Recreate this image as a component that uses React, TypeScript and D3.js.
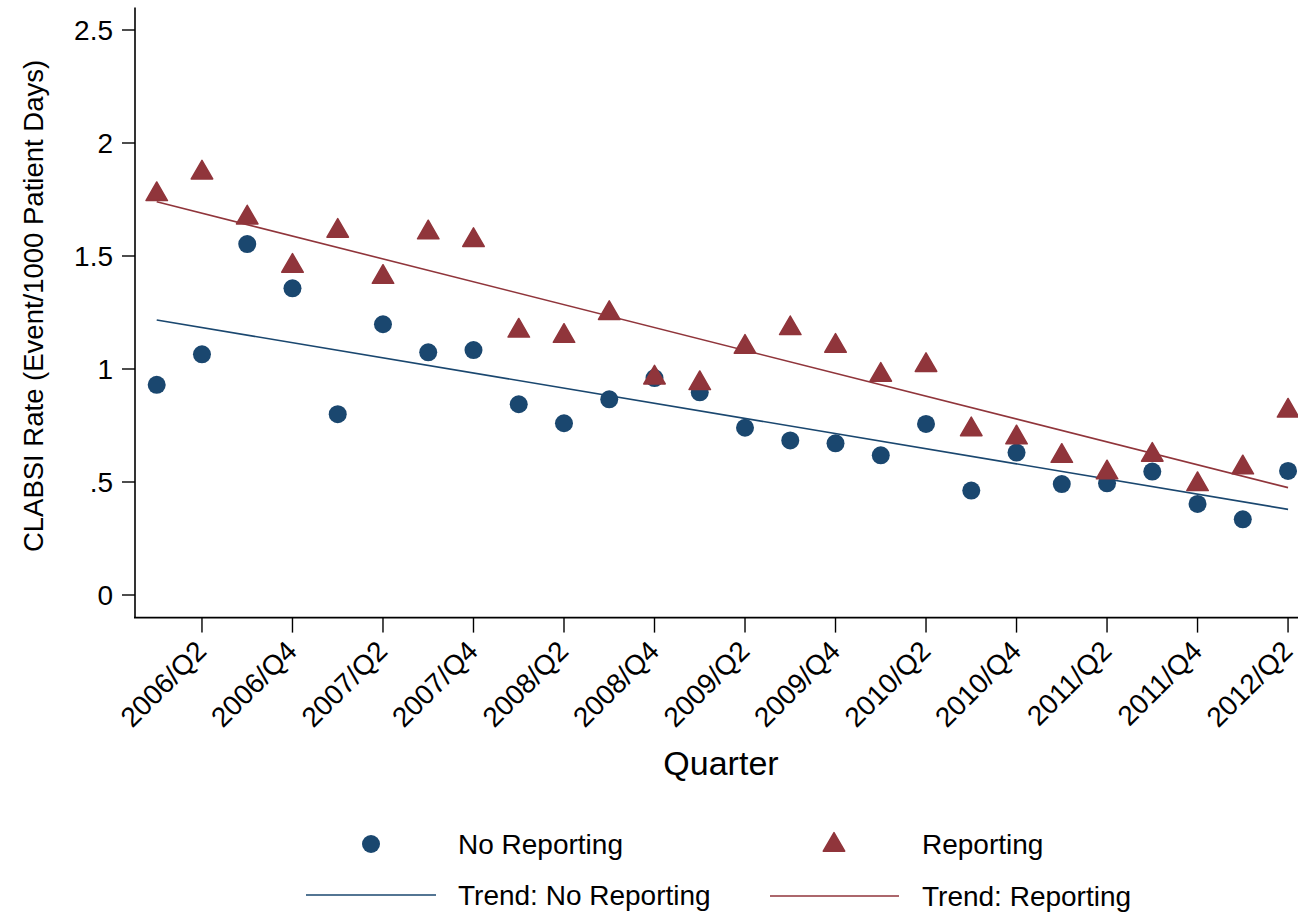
import React from "react";
import * as d3 from "d3";

const quarters = [
  "2006/Q1", "2006/Q2", "2006/Q3", "2006/Q4",
  "2007/Q1", "2007/Q2", "2007/Q3", "2007/Q4",
  "2008/Q1", "2008/Q2", "2008/Q3", "2008/Q4",
  "2009/Q1", "2009/Q2", "2009/Q3", "2009/Q4",
  "2010/Q1", "2010/Q2", "2010/Q3", "2010/Q4",
  "2011/Q1", "2011/Q2", "2011/Q3", "2011/Q4",
  "2012/Q1", "2012/Q2",
];

const noReporting = [
  0.93, 1.065, 1.553, 1.357, 0.8, 1.198, 1.074, 1.084, 0.844, 0.76, 0.866, 0.96,
  0.897, 0.74, 0.684, 0.671, 0.618, 0.757, 0.462, 0.63, 0.491, 0.494, 0.546,
  0.403, 0.335, 0.549,
];

const reporting = [
  1.777, 1.873, 1.674, 1.46, 1.615, 1.411, 1.608, 1.574, 1.173, 1.15, 1.251,
  0.966, 0.941, 1.102, 1.184, 1.106, 0.978, 1.021, 0.737, 0.701, 0.619, 0.546,
  0.624, 0.494, 0.568, 0.819,
];

// trend line values at first and last quarter
const trendNoReporting = [1.217, 0.379];
const trendReporting = [1.74, 0.475];

const yTicks = [0, 0.5, 1, 1.5, 2, 2.5];
const yTickLabels = ["0", ".5", "1", "1.5", "2", "2.5"];
const xTickQuarters = [
  "2006/Q2", "2006/Q4", "2007/Q2", "2007/Q4", "2008/Q2", "2008/Q4",
  "2009/Q2", "2009/Q4", "2010/Q2", "2010/Q4", "2011/Q2", "2011/Q4", "2012/Q2",
];

const NAVY = "#1a476f";
const MAROON = "#90353b";
const FONT = "'Liberation Sans', Arial, Helvetica, sans-serif";

const W = 1298;
const H = 914;

export default function App() {
  const x = d3.scaleLinear().domain([-0.48, 25.22]).range([135, 1298]);
  const y = d3.scaleLinear().domain([0, 2.5]).range([595, 30]);
  const idx = (q: string) => quarters.indexOf(q);

  const tri = d3.symbol().type(d3.symbolTriangle).size(200)();
  const lineGen = d3
    .line<[number, number]>()
    .x((d) => x(d[0]))
    .y((d) => y(d[1]));

  const last = quarters.length - 1;
  const axisY = y(-0.1);
  const axisTop = y(2.6);

  return (
    <svg
      width={W}
      height={H}
      style={{ position: "absolute", left: 0, top: 0, background: "#fff" }}
      fontFamily={FONT}
    >
      <rect x={0} y={0} width={W} height={H} fill="#fff" />
      {/* y axis */}
      <line x1={135} x2={135} y1={axisTop} y2={axisY} stroke="#000" strokeWidth={1.6} />
      {yTicks.map((t, i) => (
        <g key={t}>
          <line x1={122} x2={135} y1={y(t)} y2={y(t)} stroke="#000" strokeWidth={1.4} />
          <text x={113} y={y(t)} dy="0.36em" textAnchor="end" fontSize={28} fill="#000">
            {yTickLabels[i]}
          </text>
        </g>
      ))}
      <text
        transform={`translate(33, 306) rotate(-90)`}
        dy="0.36em"
        textAnchor="middle"
        fontSize={27.5}
        fill="#000"
      >
        CLABSI Rate (Event/1000 Patient Days)
      </text>

      {/* x axis */}
      <line x1={134} x2={1298} y1={axisY} y2={axisY} stroke="#000" strokeWidth={1.6} />
      {xTickQuarters.map((q) => {
        const px = x(idx(q));
        return (
          <g key={q}>
            <line x1={px} x2={px} y1={axisY} y2={axisY + 15} stroke="#000" strokeWidth={1.4} />
            <text
              transform={`translate(${px - 1}, ${axisY + 28}) rotate(-45)`}
              dy="0.36em"
              textAnchor="end"
              fontSize={28}
              fill="#000"
            >
              {q}
            </text>
          </g>
        );
      })}
      <text x={721} y={775} textAnchor="middle" fontSize={34} fill="#000">
        Quarter
      </text>

      {/* trend lines */}
      <path
        d={lineGen([[0, trendNoReporting[0]], [last, trendNoReporting[1]]]) || ""}
        stroke={NAVY}
        strokeWidth={1.6}
        fill="none"
      />
      <path
        d={lineGen([[0, trendReporting[0]], [last, trendReporting[1]]]) || ""}
        stroke={MAROON}
        strokeWidth={1.6}
        fill="none"
      />

      {/* points */}
      {noReporting.map((v, i) => (
        <circle key={"n" + i} cx={x(i)} cy={y(v)} r={9} fill={NAVY} />
      ))}
      {reporting.map((v, i) => (
        <path
          key={"r" + i}
          d={tri || ""}
          transform={`translate(${x(i)}, ${y(v) + 1})`}
          fill={MAROON}
          stroke={MAROON}
          strokeWidth={1.5}
          strokeLinejoin="round"
        />
      ))}

      {/* legend */}
      <circle cx={371} cy={844} r={9} fill={NAVY} />
      <text x={458} y={844} dy="0.36em" fontSize={28} fill="#000">
        No Reporting
      </text>
      <path
        d={tri || ""}
        transform={`translate(834, 845)`}
        fill={MAROON}
        stroke={MAROON}
        strokeWidth={1.5}
        strokeLinejoin="round"
      />
      <text x={922} y={844} dy="0.36em" fontSize={28} fill="#000">
        Reporting
      </text>
      <line x1={306} x2={436} y1={895} y2={895} stroke={NAVY} strokeWidth={1.6} />
      <text x={458} y={895} dy="0.36em" fontSize={28} fill="#000">
        Trend: No Reporting
      </text>
      <line x1={770} x2={899} y1={896} y2={896} stroke={MAROON} strokeWidth={1.6} />
      <text x={922} y={896} dy="0.36em" fontSize={28} fill="#000">
        Trend: Reporting
      </text>
    </svg>
  );
}
